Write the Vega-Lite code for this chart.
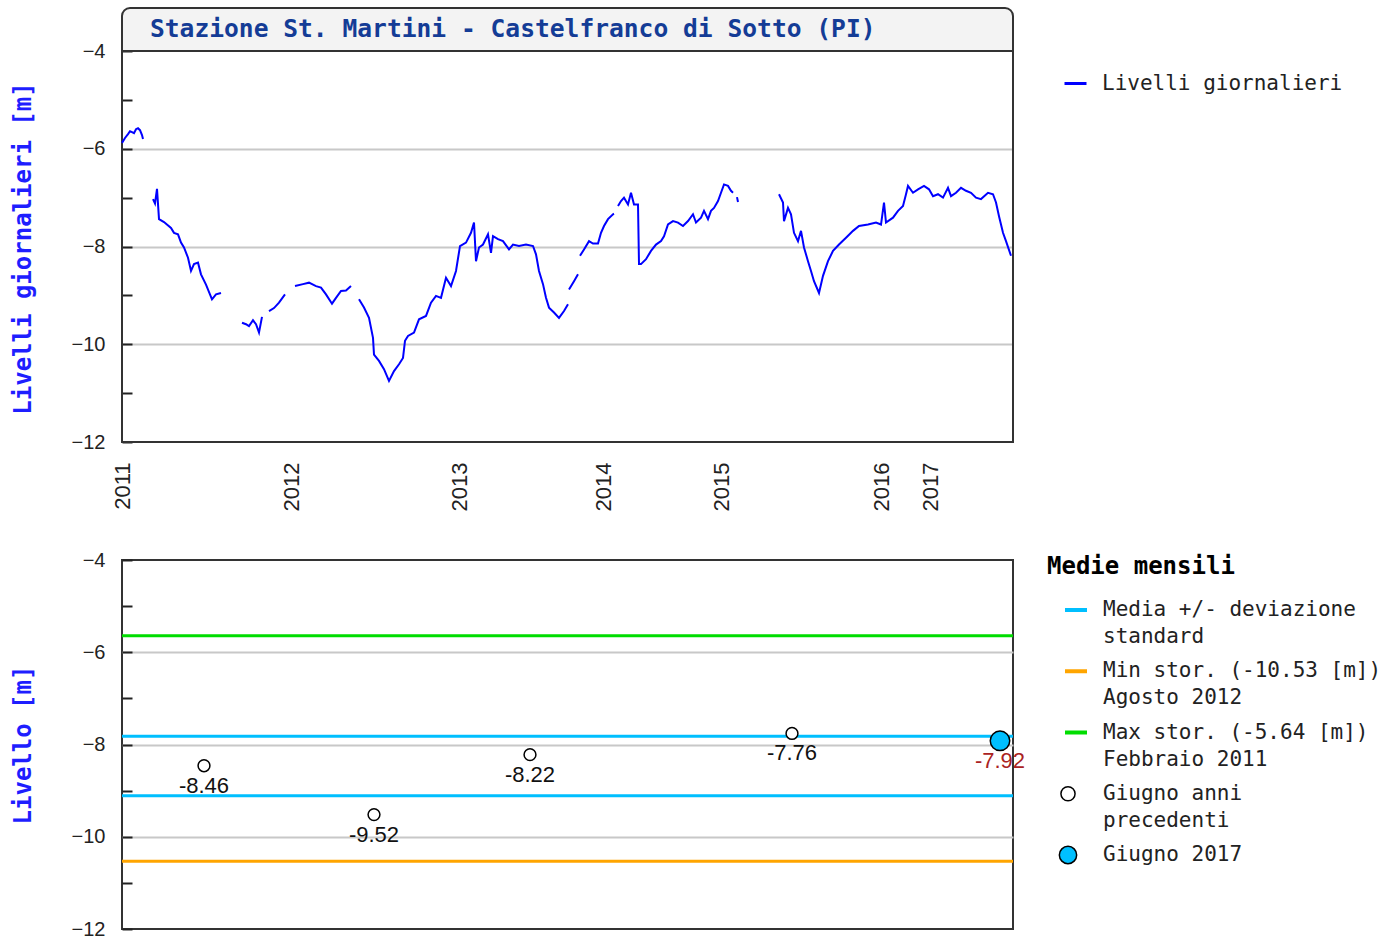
{
  "$schema": "https://vega.github.io/schema/vega-lite/v6.json",
  "background": "white",
  "padding": {"left": 10, "top": 7, "right": 5, "bottom": 0},
  "config": {"font": "Liberation Sans", "view": {"stroke": null}},
  "spacing": 38,
  "vconcat": [
    {
      "width": 891,
      "height": 434,
      "layer": [
        {
          "data": {"values": [{"k": 1}]},
          "mark": {"type": "rect", "fill": "#f3f3f3", "stroke": "#333", "strokeWidth": 2, "cornerRadiusTopLeft": 8, "cornerRadiusTopRight": 8},
          "encoding": {
            "x": {"datum": 0, "type": "quantitative", "scale": {"domain": [0, 891], "nice": false, "zero": false}},
            "x2": {"datum": 891},
            "y": {"datum": -4, "type": "quantitative", "scale": {"domain": [-12, -3.12], "nice": false, "zero": false}},
            "y2": {"datum": -3.12}
          }
        },
        {
          "data": {"values": [{"k": 1}]},
          "mark": {"type": "rect", "fill": "transparent", "stroke": "#333", "strokeWidth": 2},
          "encoding": {
            "x": {"datum": 0, "type": "quantitative", "scale": {"domain": [0, 891], "nice": false, "zero": false}},
            "x2": {"datum": 891},
            "y": {"datum": -12, "type": "quantitative", "scale": {"domain": [-12, -3.12], "nice": false, "zero": false}},
            "y2": {"datum": -4}
          }
        },
        {
          "data": {"values": [
            {"i":0,"v":-5.88,"s":1},{"i":3,"v":-5.78,"s":1},{"i":6,"v":-5.70,"s":1},{"i":8,"v":-5.64,"s":1},{"i":10,"v":-5.66,"s":1},{"i":12,"v":-5.68,"s":1},{"i":14,"v":-5.60,"s":1},{"i":16,"v":-5.58,"s":1},{"i":18,"v":-5.62,"s":1},{"i":20,"v":-5.72,"s":1},{"i":21,"v":-5.80,"s":1},
            {"i":31,"v":-7.03,"s":2},{"i":33,"v":-7.12,"s":2},{"i":35,"v":-6.82,"s":2},{"i":37,"v":-7.44,"s":2},{"i":42,"v":-7.50,"s":2},{"i":49,"v":-7.62,"s":2},{"i":52,"v":-7.72,"s":2},{"i":56,"v":-7.75,"s":2},{"i":59,"v":-7.92,"s":2},{"i":62,"v":-8.02,"s":2},{"i":66,"v":-8.23,"s":2},{"i":69,"v":-8.50,"s":2},{"i":72,"v":-8.36,"s":2},{"i":76,"v":-8.33,"s":2},{"i":79,"v":-8.57,"s":2},{"i":84,"v":-8.78,"s":2},{"i":90,"v":-9.08,"s":2},{"i":94,"v":-8.98,"s":2},{"i":99,"v":-8.95,"s":2},
            {"i":120,"v":-9.56,"s":3},{"i":124,"v":-9.59,"s":3},{"i":127,"v":-9.63,"s":3},{"i":131,"v":-9.51,"s":3},{"i":134,"v":-9.59,"s":3},{"i":137,"v":-9.76,"s":3},{"i":140,"v":-9.44,"s":3},
            {"i":147,"v":-9.32,"s":4},{"i":152,"v":-9.26,"s":4},{"i":157,"v":-9.15,"s":4},{"i":163,"v":-8.98,"s":4},
            {"i":173,"v":-8.81,"s":5},{"i":181,"v":-8.77,"s":5},{"i":187,"v":-8.74,"s":5},{"i":194,"v":-8.81,"s":5},{"i":199,"v":-8.84,"s":5},{"i":204,"v":-8.98,"s":5},{"i":210,"v":-9.17,"s":5},{"i":214,"v":-9.05,"s":5},{"i":219,"v":-8.91,"s":5},{"i":224,"v":-8.90,"s":5},{"i":229,"v":-8.81,"s":5},
            {"i":237,"v":-9.08,"s":6},{"i":242,"v":-9.25,"s":6},{"i":247,"v":-9.46,"s":6},{"i":251,"v":-9.87,"s":6},{"i":252,"v":-10.21,"s":6},{"i":257,"v":-10.34,"s":6},{"i":262,"v":-10.51,"s":6},{"i":267,"v":-10.75,"s":6},{"i":272,"v":-10.55,"s":6},{"i":277,"v":-10.41,"s":6},{"i":281,"v":-10.28,"s":6},{"i":283,"v":-9.93,"s":6},{"i":286,"v":-9.83,"s":6},{"i":292,"v":-9.76,"s":6},{"i":297,"v":-9.49,"s":6},{"i":304,"v":-9.42,"s":6},{"i":309,"v":-9.15,"s":6},{"i":314,"v":-9.01,"s":6},{"i":319,"v":-9.05,"s":6},{"i":324,"v":-8.64,"s":6},{"i":329,"v":-8.81,"s":6},{"i":334,"v":-8.50,"s":6},{"i":338,"v":-7.99,"s":6},{"i":344,"v":-7.92,"s":6},{"i":349,"v":-7.72,"s":6},{"i":352,"v":-7.51,"s":6},{"i":354,"v":-8.30,"s":6},{"i":357,"v":-8.02,"s":6},{"i":361,"v":-7.96,"s":6},{"i":366,"v":-7.75,"s":6},{"i":369,"v":-8.13,"s":6},{"i":371,"v":-7.79,"s":6},{"i":376,"v":-7.85,"s":6},{"i":381,"v":-7.89,"s":6},{"i":387,"v":-8.06,"s":6},{"i":391,"v":-7.96,"s":6},{"i":397,"v":-7.99,"s":6},{"i":404,"v":-7.96,"s":6},{"i":411,"v":-7.99,"s":6},{"i":414,"v":-8.16,"s":6},{"i":417,"v":-8.50,"s":6},{"i":421,"v":-8.77,"s":6},{"i":424,"v":-9.05,"s":6},{"i":427,"v":-9.25,"s":6},{"i":432,"v":-9.35,"s":6},{"i":437,"v":-9.46,"s":6},{"i":442,"v":-9.32,"s":6},{"i":446,"v":-9.18,"s":6},
            {"i":447,"v":-8.88,"s":7},{"i":452,"v":-8.71,"s":7},{"i":456,"v":-8.57,"s":7},
            {"i":458,"v":-8.19,"s":8},{"i":462,"v":-8.06,"s":8},{"i":467,"v":-7.89,"s":8},{"i":471,"v":-7.94,"s":8},{"i":476,"v":-7.94,"s":8},{"i":479,"v":-7.72,"s":8},{"i":482,"v":-7.58,"s":8},{"i":486,"v":-7.44,"s":8},{"i":491,"v":-7.34,"s":8},{"i":492,"v":-7.33,"s":8},
            {"i":496,"v":-7.17,"s":9},{"i":499,"v":-7.07,"s":9},{"i":502,"v":-7.00,"s":9},{"i":506,"v":-7.14,"s":9},{"i":509,"v":-6.90,"s":9},{"i":512,"v":-7.14,"s":9},{"i":516,"v":-7.14,"s":9},{"i":517,"v":-8.36,"s":9},{"i":519,"v":-8.36,"s":9},{"i":524,"v":-8.26,"s":9},{"i":529,"v":-8.09,"s":9},{"i":534,"v":-7.96,"s":9},{"i":539,"v":-7.89,"s":9},{"i":542,"v":-7.79,"s":9},{"i":546,"v":-7.55,"s":9},{"i":551,"v":-7.48,"s":9},{"i":556,"v":-7.51,"s":9},{"i":561,"v":-7.58,"s":9},{"i":566,"v":-7.48,"s":9},{"i":571,"v":-7.34,"s":9},{"i":574,"v":-7.51,"s":9},{"i":579,"v":-7.41,"s":9},{"i":582,"v":-7.27,"s":9},{"i":586,"v":-7.44,"s":9},{"i":589,"v":-7.27,"s":9},{"i":592,"v":-7.21,"s":9},{"i":596,"v":-7.07,"s":9},{"i":599,"v":-6.90,"s":9},{"i":602,"v":-6.73,"s":9},{"i":606,"v":-6.76,"s":9},{"i":609,"v":-6.86,"s":9},{"i":611,"v":-6.90,"s":9},
            {"i":615,"v":-6.99,"s":10},{"i":616,"v":-7.09,"s":10},
            {"i":657,"v":-6.93,"s":11},{"i":661,"v":-7.10,"s":11},{"i":662,"v":-7.48,"s":11},{"i":666,"v":-7.21,"s":11},{"i":669,"v":-7.34,"s":11},{"i":672,"v":-7.72,"s":11},{"i":676,"v":-7.89,"s":11},{"i":679,"v":-7.68,"s":11},{"i":682,"v":-8.02,"s":11},{"i":686,"v":-8.30,"s":11},{"i":689,"v":-8.50,"s":11},{"i":692,"v":-8.71,"s":11},{"i":697,"v":-8.95,"s":11},{"i":701,"v":-8.60,"s":11},{"i":706,"v":-8.30,"s":11},{"i":711,"v":-8.09,"s":11},{"i":717,"v":-7.96,"s":11},{"i":724,"v":-7.82,"s":11},{"i":731,"v":-7.68,"s":11},{"i":737,"v":-7.58,"s":11},{"i":746,"v":-7.55,"s":11},{"i":754,"v":-7.51,"s":11},{"i":759,"v":-7.55,"s":11},{"i":762,"v":-7.10,"s":11},{"i":764,"v":-7.51,"s":11},{"i":771,"v":-7.41,"s":11},{"i":776,"v":-7.27,"s":11},{"i":781,"v":-7.17,"s":11},{"i":784,"v":-6.93,"s":11},{"i":786,"v":-6.76,"s":11},{"i":791,"v":-6.90,"s":11},{"i":796,"v":-6.83,"s":11},{"i":802,"v":-6.76,"s":11},{"i":807,"v":-6.83,"s":11},{"i":811,"v":-6.97,"s":11},{"i":816,"v":-6.93,"s":11},{"i":821,"v":-7.00,"s":11},{"i":826,"v":-6.80,"s":11},{"i":829,"v":-6.97,"s":11},{"i":834,"v":-6.90,"s":11},{"i":839,"v":-6.80,"s":11},{"i":844,"v":-6.86,"s":11},{"i":849,"v":-6.90,"s":11},{"i":854,"v":-7.00,"s":11},{"i":859,"v":-7.03,"s":11},{"i":866,"v":-6.90,"s":11},{"i":871,"v":-6.93,"s":11},{"i":874,"v":-7.10,"s":11},{"i":877,"v":-7.38,"s":11},{"i":881,"v":-7.72,"s":11},{"i":884,"v":-7.89,"s":11},{"i":889,"v":-8.19,"s":11}
          ]},
          "mark": {"type": "line", "strokeWidth": 2},
          "encoding": {
            "x": {
              "field": "i", "type": "quantitative",
              "scale": {"domain": [0, 891], "nice": false, "zero": false},
              "axis": {
                "title": null,
                "values": [0, 169, 337, 481, 599, 759, 808],
                "labelExpr": "datum.value===0?'2011':datum.value===169?'2012':datum.value===337?'2013':datum.value===481?'2014':datum.value===599?'2015':datum.value===759?'2016':'2017'",
                "labelAngle": -90, "labelFont": "Liberation Sans", "labelFontSize": 22, "labelColor": "#222",
                "labelPadding": 20, "ticks": false, "domain": false, "grid": false, "labelFlush": false, "labelOverlap": false
              }
            },
            "y": {
              "field": "v", "type": "quantitative",
              "scale": {"domain": [-12, -3.12], "nice": false, "zero": false},
              "axis": {
                "title": "Livelli giornalieri [m]", "titleFont": "DejaVu Sans Mono", "titleFontSize": 24, "titleFontWeight": "bold",
                "titleColor": "#1e1eff", "titleY": 240, "titlePadding": 36,
                "values": [-12, -11, -10, -9, -8, -7, -6, -5, -4],
                "labelExpr": "datum.value % 2 === 0 ? datum.label : ''",
                "labelFont": "Liberation Sans", "labelFontSize": 20, "labelColor": "#222", "labelPadding": 27, "labelOverlap": false,
                "tickSize": -10, "tickColor": "#222", "tickWidth": 2, "domain": false,
                "grid": true, "gridWidth": 2,
                "gridColor": {"condition": {"test": "datum.value % 2 !== 0 || datum.value === -4 || datum.value === -12", "value": "transparent"}, "value": "#c8c8c8"}
              }
            },
            "detail": {"field": "s", "type": "nominal"},
            "color": {
              "datum": "Livelli giornalieri",
              "scale": {"domain": ["Livelli giornalieri"], "range": ["#0000ff"]},
              "legend": {
                "title": null, "orient": "none", "legendX": 941, "legendY": 63,
                "labelFont": "DejaVu Sans Mono", "labelFontSize": 21, "labelColor": "#222", "labelOffset": 14, "labelLimit": 400,
                "symbolType": "stroke", "symbolSize": 484, "symbolStrokeWidth": 3
              }
            }
          }
        },
        {
          "data": {"values": [{"t": "Stazione St. Martini - Castelfranco di Sotto (PI)"}]},
          "mark": {"type": "text", "align": "left", "baseline": "middle", "font": "DejaVu Sans Mono", "fontSize": 24.6, "fontWeight": "bold", "fill": "#143c96"},
          "encoding": {
            "x": {"datum": 28, "type": "quantitative", "scale": {"domain": [0, 891], "nice": false, "zero": false}},
            "y": {"datum": -3.56, "type": "quantitative", "scale": {"domain": [-12, -3.12], "nice": false, "zero": false}},
            "text": {"field": "t"}
          }
        }
      ]
    },
    {
      "spacing": 20,
      "hconcat": [
        {
          "width": 891,
          "height": 369,
          "view": {"stroke": "#333", "strokeWidth": 2},
          "data": {"values": [
            {"series": "Max", "v": -5.64},
            {"series": "Media", "v": -7.82},
            {"series": "Media", "v": -9.11},
            {"series": "Min", "v": -10.53},
            {"series": "Giugno anni precedenti", "i": 82, "v": -8.46, "lab": "-8.46"},
            {"series": "Giugno anni precedenti", "i": 252, "v": -9.52, "lab": "-9.52"},
            {"series": "Giugno anni precedenti", "i": 408, "v": -8.22, "lab": "-8.22"},
            {"series": "Giugno anni precedenti", "i": 670, "v": -7.76, "lab": "-7.76"},
            {"series": "Giugno 2017", "i": 878, "v": -7.92, "lab": "-7.92"}
          ]},
          "layer": [
            {
              "transform": [{"filter": "datum.i == null"}],
              "mark": {"type": "rule", "strokeWidth": 3},
              "encoding": {
                "y": {
                  "field": "v", "type": "quantitative",
                  "scale": {"domain": [-12, -4], "nice": false, "zero": false},
                  "axis": {
                    "title": "Livello [m]", "titleFont": "DejaVu Sans Mono", "titleFontSize": 24, "titleFontWeight": "bold",
                    "titleColor": "#1e1eff", "titlePadding": 36,
                    "values": [-12, -11, -10, -9, -8, -7, -6, -5, -4],
                    "labelExpr": "datum.value % 2 === 0 ? datum.label : ''",
                    "labelFont": "Liberation Sans", "labelFontSize": 20, "labelColor": "#222", "labelPadding": 27, "labelOverlap": false,
                    "tickSize": -10, "tickColor": "#222", "tickWidth": 2, "domain": false,
                    "grid": true, "gridWidth": 2,
                    "gridColor": {"condition": {"test": "datum.value % 2 !== 0 || datum.value === -4 || datum.value === -12", "value": "transparent"}, "value": "#c8c8c8"}
                  }
                },
                "stroke": {
                  "field": "series", "type": "nominal", "legend": null,
                  "scale": {"domain": ["Media", "Min", "Max", "Giugno anni precedenti", "Giugno 2017"], "range": ["#00bfff", "#ffa500", "#00dd00", "#000000", "#000000"]}
                }
              }
            },
            {
              "transform": [{"filter": "datum.series === 'Giugno anni precedenti'"}],
              "mark": {"type": "point", "shape": "circle", "filled": true, "stroke": "#000", "strokeWidth": 1.5, "size": 140, "opacity": 1},
              "encoding": {
                "x": {"field": "i", "type": "quantitative", "scale": {"domain": [0, 891], "nice": false, "zero": false}, "axis": null},
                "y": {"field": "v", "type": "quantitative"},
                "fill": {
                  "field": "series", "type": "nominal", "legend": null,
                  "scale": {"domain": ["Media", "Min", "Max", "Giugno anni precedenti", "Giugno 2017"], "range": ["#00bfff", "#ffa500", "#00dd00", "#ffffff", "#00bfff"]}
                }
              }
            },
            {
              "transform": [{"filter": "datum.series === 'Giugno 2017'"}],
              "mark": {"type": "point", "shape": "circle", "filled": true, "stroke": "#000", "strokeWidth": 1.5, "size": 380, "opacity": 1},
              "encoding": {
                "x": {"field": "i", "type": "quantitative", "scale": {"domain": [0, 891], "nice": false, "zero": false}, "axis": null},
                "y": {"field": "v", "type": "quantitative"},
                "fill": {"field": "series", "type": "nominal", "legend": null}
              }
            },
            {
              "transform": [{"filter": "datum.i != null"}],
              "mark": {"type": "text", "font": "Liberation Sans", "fontSize": 22, "baseline": "middle", "align": "center", "dy": 20},
              "encoding": {
                "x": {"field": "i", "type": "quantitative", "scale": {"domain": [0, 891], "nice": false, "zero": false}, "axis": null},
                "y": {"field": "v", "type": "quantitative"},
                "text": {"field": "lab"},
                "color": {"condition": {"test": "datum.series === 'Giugno 2017'", "value": "#aa2222"}, "value": "#111"}
              }
            }
          ]
        },
        {
          "width": 340,
          "height": 369,
          "title": {"text": "Medie mensili", "anchor": "start", "font": "DejaVu Sans Mono", "fontSize": 24, "fontWeight": "bold", "color": "#000", "offset": -19},
          "data": {"values": [
            {"series": "Media", "l1": "Media +/- deviazione", "l2": "standard", "kind": "line"},
            {"series": "Min", "l1": "Min stor. (-10.53 [m])", "l2": "Agosto 2012", "kind": "line"},
            {"series": "Max", "l1": "Max stor. (-5.64 [m])", "l2": "Febbraio 2011", "kind": "line"},
            {"series": "Giugno anni precedenti", "l1": "Giugno anni", "l2": "precedenti", "kind": "circle"},
            {"series": "Giugno 2017", "l1": "Giugno 2017", "l2": "", "kind": "circle"}
          ]},
          "layer": [
            {
              "transform": [{"filter": "datum.kind === 'line'"}],
              "mark": {"type": "point", "shape": "stroke", "size": 484, "strokeWidth": 4, "opacity": 1},
              "encoding": {
                "x": {"datum": 29, "type": "quantitative", "scale": {"domain": [0, 340], "nice": false, "zero": false}, "axis": null},
                "y": {"field": "series", "type": "nominal", "axis": null, "scale": {"type": "point", "domain": ["Media", "Min", "Max", "Giugno anni precedenti", "Giugno 2017"], "range": [50, 295], "padding": 0}},
                "stroke": {"field": "series", "type": "nominal", "legend": null}
              }
            },
            {
              "transform": [{"filter": "datum.kind === 'circle'"}],
              "mark": {"type": "point", "shape": "circle", "filled": true, "stroke": "#000", "strokeWidth": 1.5, "opacity": 1},
              "encoding": {
                "x": {"datum": 21, "type": "quantitative", "scale": {"domain": [0, 340], "nice": false, "zero": false}, "axis": null},
                "y": {"field": "series", "type": "nominal", "axis": null},
                "fill": {"field": "series", "type": "nominal", "legend": null},
                "size": {"condition": {"test": "datum.series === 'Giugno 2017'", "value": 300}, "value": 200}
              }
            },
            {
              "mark": {"type": "text", "align": "left", "baseline": "middle", "font": "DejaVu Sans Mono", "fontSize": 21, "color": "#222"},
              "encoding": {
                "x": {"datum": 56, "type": "quantitative", "scale": {"domain": [0, 340], "nice": false, "zero": false}, "axis": null},
                "y": {"field": "series", "type": "nominal", "axis": null},
                "text": {"field": "l1"}
              }
            },
            {
              "mark": {"type": "text", "align": "left", "baseline": "middle", "font": "DejaVu Sans Mono", "fontSize": 21, "color": "#222", "dy": 27},
              "encoding": {
                "x": {"datum": 56, "type": "quantitative", "scale": {"domain": [0, 340], "nice": false, "zero": false}, "axis": null},
                "y": {"field": "series", "type": "nominal", "axis": null},
                "text": {"field": "l2"}
              }
            }
          ]
        }
      ]
    }
  ]
}
